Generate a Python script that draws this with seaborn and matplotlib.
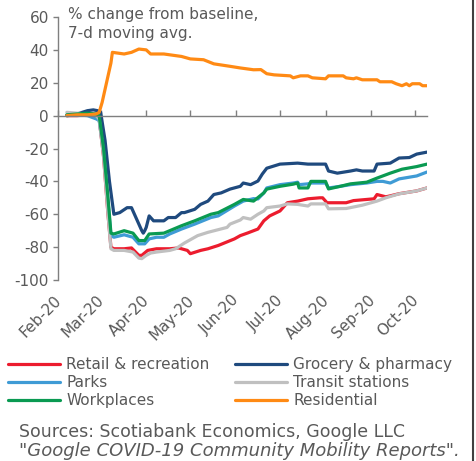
import matplotlib
matplotlib.use("Agg")
import matplotlib.pyplot as plt
from matplotlib.lines import Line2D
import matplotlib.transforms as mtransforms
import seaborn as sns
import pandas as pd

# ---- data (days since 1 Feb 2020, % change from baseline, 7-d avg) ----
retail_days = [6, 13, 20, 26, 28, 31, 34, 36, 38, 45, 50, 55, 57, 61, 67, 76, 82, 88, 90, 97, 102, 109,
               120, 124, 129, 136, 140, 144, 151, 156, 163, 170, 178, 180, 183, 196, 201, 215, 217, 223,
               226, 232, 244, 251]
retail_vals = [0, 0, 0.5, 0, -2, -25, -60, -80, -81, -81, -80.5, -85, -85, -82, -81, -81, -80.5, -82, -84,
               -82, -81, -79, -75, -73, -71.4, -69, -64, -61, -58, -53, -52, -50.6, -50, -50, -53, -53,
               -51.7, -50.6, -48, -49.4, -48.8, -47.5, -45.8, -44]

grocery_days = [6, 13, 20, 24, 27, 29, 32, 35, 38, 42, 47, 50, 52, 55, 57, 58, 59, 60, 62, 65, 72, 75, 80,
                84, 86, 93, 97, 102, 106, 111, 117, 124, 126, 131, 136, 139, 142, 151, 163, 170, 176, 182,
                184, 190, 199, 203, 207, 215, 217, 226, 232, 239, 244, 251]
grocery_vals = [0, 1, 3, 3.5, 3, 2, -15, -40, -60, -59, -56, -56, -60, -66, -70, -71.5, -70, -68, -61, -64,
                -64, -62, -62, -59, -59, -57, -54, -52, -48, -47, -44.7, -43, -41, -42, -39.8, -35.5, -32,
                -29.5, -28.9, -29.5, -29.5, -29.5, -33.7, -35, -33.7, -33, -33.7, -33.7, -29.5, -28.9,
                -25.8, -25.5, -23.4, -22.2]

parks_days = [6, 13, 20, 26, 28, 31, 34, 36, 38, 45, 51, 55, 59, 62, 67, 72, 76, 84, 93, 104, 109, 120, 126,
              133, 136, 140, 142, 151, 160, 163, 164, 170, 172, 182, 184, 192, 199, 210, 217, 221, 226,
              232, 244, 251]
parks_vals = [0, 0.5, 0, -2, -3, -22, -52, -73, -74, -72.5, -74, -78, -78, -75, -74, -74, -72, -69, -66, -62,
              -61, -55, -52, -50.5, -50.7, -47, -44, -42, -41, -40.5, -42, -41.5, -41, -41, -44, -43, -42,
              -41, -40, -40, -41, -38.5, -36.7, -34.3]

transit_days = [6, 13, 20, 26, 28, 31, 34, 36, 38, 45, 51, 55, 57, 60, 63, 67, 76, 80, 86, 95, 102, 115,
                117, 124, 126, 131, 136, 140, 142, 151, 156, 163, 170, 172, 182, 184, 196, 207, 217, 223,
                232, 244, 251]
transit_vals = [2, 1.5, 1, 0, -2, -25, -60, -81, -82, -82, -83, -86.7, -87, -85, -83.6, -83, -82, -81,
                -77.5, -73, -71, -68, -66, -63.5, -62, -63, -60, -58, -56, -55, -53.7, -54, -55, -53.7,
                -53.7, -56.7, -56.5, -54.5, -52, -50, -47.6, -45.8, -44]

work_days = [6, 13, 20, 26, 28, 31, 34, 36, 38, 45, 51, 55, 59, 62, 72, 76, 84, 93, 104, 109, 120, 126, 133,
             140, 142, 151, 160, 163, 164, 170, 172, 182, 184, 192, 199, 210, 217, 226, 234, 244, 251]
work_vals = [0.5, 1, 1.5, 1, 0, -20, -50, -71.5, -72, -70, -71.5, -76, -76, -72, -71.5, -70, -67, -64, -60,
             -59, -54, -51, -52, -47, -44.7, -43, -41.7, -41, -44, -44, -40, -40, -44.6, -43, -41.5, -40.5,
             -38, -35, -32.6, -31, -29.5]

resid_days = [6, 13, 20, 26, 28, 30, 33, 36, 37, 45, 50, 55, 60, 63, 72, 84, 90, 99, 106, 117, 124, 133,
              138, 142, 147, 158, 160, 165, 170, 173, 182, 184, 194, 196, 201, 203, 207, 217, 219, 227,
              230, 234, 237, 239, 241, 246, 248, 251]
resid_vals = [0, 0.5, 0.5, 1, 2, 8, 20, 32, 38.5, 37.5, 38.5, 40.5, 40, 37.5, 37.5, 36, 34.5, 34, 31.5, 30,
              29, 27.9, 28, 25.5, 24.8, 24.2, 23, 24.2, 24.2, 23, 22.4, 24.2, 24.2, 23, 22.4, 23, 21.8,
              21.8, 20.6, 20.6, 19.4, 18.2, 19.4, 18.2, 19.4, 19.4, 18.2, 18.2]

series_names = ["Retail & recreation", "Grocery & pharmacy", "Parks", "Transit stations",
                "Workplaces", "Residential"]
month_days = [0, 29, 60, 90, 121, 151, 182, 213, 243]
month_labels = ["Feb-20", "Mar-20", "Apr-20", "May-20", "Jun-20", "Jul-20", "Aug-20", "Sep-20", "Oct-20"]
y_ticks = [-100, -80, -60, -40, -20, 0, 20, 40, 60]

colors = {
    "Retail & recreation": "#EC1C2E",
    "Grocery & pharmacy": "#1F4A7E",
    "Parks": "#3F9BD5",
    "Transit stations": "#C0C0C0",
    "Workplaces": "#0A9A52",
    "Residential": "#FF8A14",
}

frames = []
for name, d, v in zip(series_names,
                      [retail_days, grocery_days, parks_days, transit_days, work_days, resid_days],
                      [retail_vals, grocery_vals, parks_vals, transit_vals, work_vals, resid_vals]):
    frames.append(pd.DataFrame({"day": d, "value": v, "series": name}))
df = pd.concat(frames, ignore_index=True)

# ---- figure ----
sns.set_style("white")
plt.rcParams["font.family"] = ["DejaVu Sans"]
TXT = "#595959"
FS = 11

fig = plt.figure(figsize=(4.77, 4.61), dpi=100)
ax = fig.add_axes([58 / 477, 1 - 280 / 461, 369 / 477, 263 / 461])

sns.lineplot(data=df, x="day", y="value", hue="series", hue_order=series_names,
             palette=colors, estimator=None, sort=True, linewidth=2.3, legend=False, ax=ax)

ax.set_xlim(0, 251)
ax.set_ylim(-100, 60)
ax.set_xlabel("")
ax.set_ylabel("")

for s in ["top", "right"]:
    ax.spines[s].set_visible(False)
ax.spines["left"].set_color("#7F7F7F")
ax.spines["left"].set_linewidth(1.0)
ax.spines["bottom"].set_position(("data", 0))
ax.spines["bottom"].set_color("#7F7F7F")
ax.spines["bottom"].set_linewidth(1.0)

ax.set_yticks(y_ticks)
ax.set_yticklabels([str(t) for t in y_ticks])
ax.tick_params(axis="y", direction="out", length=3.5, width=1, color="#7F7F7F",
               labelsize=FS, labelcolor=TXT, pad=3, left=True)

ax.set_xticks(month_days)
ax.set_xticklabels([])
ax.tick_params(axis="x", direction="in", length=4, width=1, color="#7F7F7F", bottom=True)

sec = ax.secondary_xaxis("bottom")
sec.set_xticks(month_days)
sec.set_xticklabels(month_labels, rotation=45, ha="right", rotation_mode="anchor",
                    fontsize=FS, color=TXT)
sec.tick_params(length=0, pad=9)
sec.spines["bottom"].set_visible(False)
shift = mtransforms.ScaledTranslation(-4 / 100, 0, fig.dpi_scale_trans)
for lab in sec.get_xticklabels():
    lab.set_transform(lab.get_transform() + shift)

fig.text(68 / 477, 1 - 7 / 461, "% change from baseline,\n7-d moving avg.", ha="left", va="top",
         fontsize=FS, color=TXT, linespacing=1.35)

handles = [Line2D([], [], color=colors[n], linewidth=2.3) for n in series_names]
order = [0, 2, 4, 1, 3, 5]
fig.legend([handles[i] for i in order], [series_names[i] for i in order], ncol=2,
           loc="upper left", bbox_to_anchor=(8 / 477, 1 - 357 / 461), frameon=False,
           fontsize=FS, labelcolor=TXT, handlelength=3.4, handletextpad=0.4,
           columnspacing=1.7, labelspacing=0.2, borderpad=0, borderaxespad=0)

fig.text(19 / 477, 1 - 432 / 461, "Sources: Scotiabank Economics, Google LLC", ha="left",
         va="center", fontsize=12.5, color=TXT)
fig.text(19 / 477, 1 - 451 / 461, "\"Google COVID-19 Community Mobility Reports\".", ha="left",
         va="center", fontsize=13, color=TXT, style="italic")

fig.add_artist(Line2D([473 / 477, 473 / 477], [0, 1], transform=fig.transFigure,
                      color="#404040", linewidth=1.5))

fig.savefig("out.png", dpi=100)
